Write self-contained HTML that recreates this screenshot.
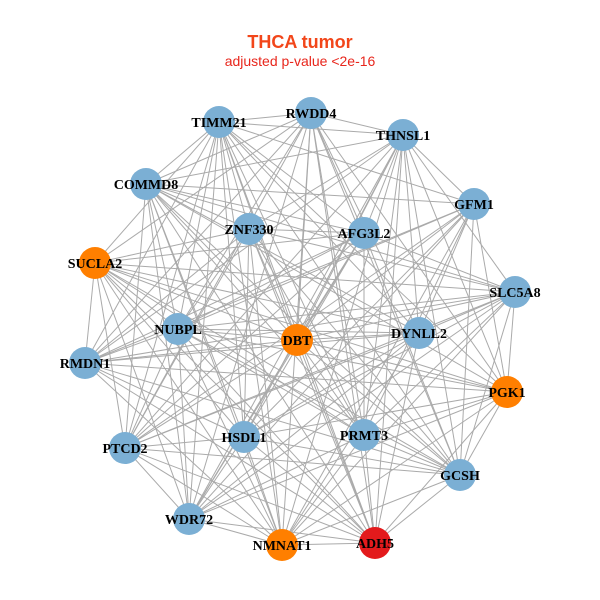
<!DOCTYPE html>
<html><head><meta charset="utf-8">
<style>html,body{margin:0;padding:0;background:#fff}svg{display:block}</style>
</head><body>
<svg id="s" width="600" height="600" xmlns="http://www.w3.org/2000/svg">
<rect width="600" height="600" fill="#fff"/>
<text x="300" y="48" text-anchor="middle" font-family="Liberation Sans, sans-serif" font-weight="bold" font-size="18" fill="#f2461a">THCA tumor</text>
<text x="300" y="66" text-anchor="middle" font-family="Liberation Sans, sans-serif" font-size="14" fill="#e8261c">adjusted p-value &lt;2e-16</text>
<g id="e" stroke="#aaaaaa" stroke-width="1"></g>
<g id="n"></g>
</svg>
<script>
var N=[["TIMM21",219,122,"b"],["RWDD4",311,113,"b"],["THNSL1",403,135,"b"],["COMMD8",146,184,"b"],["GFM1",474,204,"b"],["ZNF330",249,229,"b"],["AFG3L2",364,233,"b"],["SUCLA2",95,263,"o"],["SLC5A8",515,292,"b"],["NUBPL",178,329,"b"],["DBT",297,340,"o"],["DYNLL2",419,333,"b"],["RMDN1",85,363,"b"],["PGK1",507,392,"o"],["PTCD2",125,448,"b"],["HSDL1",244,437,"b"],["PRMT3",364,435,"b"],["GCSH",460,475,"b"],["WDR72",189,519,"b"],["NMNAT1",282,545,"o"],["ADH5",375,543,"r"]];
var C={b:"#7bafd4",o:"#ff7f00",r:"#e31a1c"};
var ns="http://www.w3.org/2000/svg",e=document.getElementById("e"),g=document.getElementById("n");
var seed=7;function rnd(){seed=(seed*9301+49297)%233280;return seed/233280;}
for(var i=0;i<N.length;i++)for(var j=i+1;j<N.length;j++){if(rnd()<0.8){var l=document.createElementNS(ns,"line");l.setAttribute("x1",N[i][1]);l.setAttribute("y1",N[i][2]);l.setAttribute("x2",N[j][1]);l.setAttribute("y2",N[j][2]);e.appendChild(l);}}
N.forEach(function(d){var c=document.createElementNS(ns,"circle");c.setAttribute("cx",d[1]);c.setAttribute("cy",d[2]);c.setAttribute("r",16);c.setAttribute("fill",C[d[3]]);g.appendChild(c);});
N.forEach(function(d){var t=document.createElementNS(ns,"text");t.setAttribute("x",d[1]);t.setAttribute("y",d[2]+5);t.setAttribute("text-anchor","middle");t.setAttribute("font-family","Liberation Serif, serif");t.setAttribute("font-weight","bold");t.setAttribute("font-size","14");t.textContent=d[0];g.appendChild(t);});
</script>
</body></html>
